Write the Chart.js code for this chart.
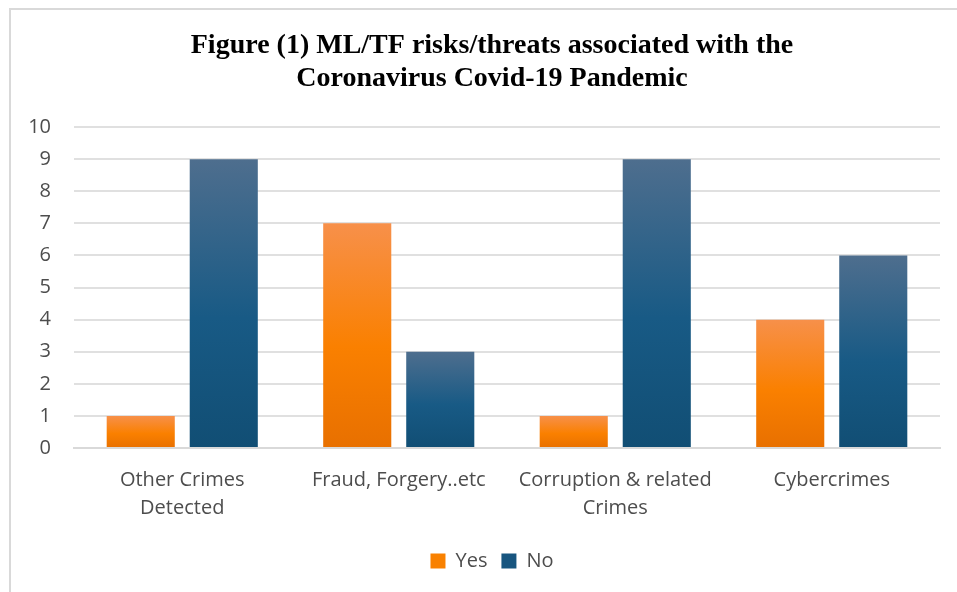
<!DOCTYPE html>
<html>
<head>
<meta charset="utf-8">
<script src="https://cdn.jsdelivr.net/npm/chart.js@4.4.1/dist/chart.umd.min.js"></script>
<style>
  html, body { margin: 0; padding: 0; background: #fff; }
  #wrap { position: relative; width: 957px; height: 592px; overflow: hidden; }
  #frame { position: absolute; left: 9px; top: 8px; width: 1000px; height: 700px; border: 2px solid #d9d9d9; box-sizing: border-box; }
  canvas { position: absolute; left: 0; top: 0; }
</style>
</head>
<body>
<div id="wrap">
  <div id="frame"></div>
  <canvas id="c" width="957" height="592"></canvas>
</div>
<script>
const categories = [["Other Crimes", "Detected"], "Fraud, Forgery..etc", ["Corruption & related", "Crimes"], "Cybercrimes"];
const yesValues = [1, 7, 1, 4];
const noValues = [9, 3, 9, 6];
const titleLines = ["Figure (1) ML/TF risks/threats associated with the", "Coronavirus Covid-19 Pandemic"];

function barGradient(ctx, stops) {
  const chart = ctx.chart;
  if (!chart.chartArea || ctx.type !== 'data') return stops[1][1];
  const ys = chart.scales.y;
  const v = ctx.parsed ? ctx.parsed.y : ctx.raw;
  const top = ys.getPixelForValue(v);
  const bot = ys.getPixelForValue(0);
  if (!isFinite(top) || !isFinite(bot) || top === bot) return stops[1][1];
  const g = chart.ctx.createLinearGradient(0, top, 0, bot);
  stops.forEach(s => g.addColorStop(s[0], s[1]));
  return g;
}
const orangeStops = [[0, '#F7904A'], [0.55, '#FA8000'], [1, '#E87000']];
const blueStops = [[0, '#4E6E8E'], [0.55, '#185A85'], [1, '#114E74']];
const sans = '"Open Sans", Calibri, sans-serif';

const shiftBlocks = {
  id: 'shiftBlocks',
  afterLayout(chart) {
    const dx = 12;
    if (chart.titleBlock) { chart.titleBlock.left += dx; chart.titleBlock.right += dx; }
    if (chart.legend) {
      chart.legend.left += dx; chart.legend.right += dx;
      (chart.legend.legendHitBoxes || []).forEach(b => { b.left += dx; });
    }
  }
};

new Chart(document.getElementById('c'), {
  type: 'bar',
  data: {
    labels: categories,
    datasets: [
      { label: 'Yes', data: yesValues, backgroundColor: c => barGradient(c, orangeStops), borderWidth: 0,
        barPercentage: 0.82, categoryPercentage: 0.767 },
      { label: 'No', data: noValues, backgroundColor: c => barGradient(c, blueStops), borderWidth: 0,
        barPercentage: 0.82, categoryPercentage: 0.767 }
    ]
  },
  plugins: [shiftBlocks],
  options: {
    responsive: false,
    animation: false,
    devicePixelRatio: 1,
    layout: { padding: { top: 29, left: 20, right: 17, bottom: 11 } },
    plugins: {
      title: {
        display: true,
        text: titleLines,
        color: '#000',
        font: { family: '"Liberation Serif", "Times New Roman", serif', size: 28, weight: 'bold', lineHeight: 1.18 },
        padding: { top: 0, bottom: 32 }
      },
      legend: {
        position: 'bottom',
        labels: {
          color: '#4d4d4d',
          font: { family: sans, size: 20 },
          boxWidth: 15, boxHeight: 15, padding: 14,
          generateLabels: chart => chart.data.datasets.map((d, i) => ({
            text: d.label, fillStyle: i === 0 ? '#F98100' : '#17557F', strokeStyle: 'transparent', lineWidth: 0, datasetIndex: i, fontColor: '#4d4d4d'
          }))
        }
      },
      tooltip: { enabled: false }
    },
    scales: {
      x: {
        grid: { display: false, drawTicks: false },
        border: { display: true, color: '#d9d9d9', width: 2 },
        ticks: { color: '#4d4d4d', font: { family: sans, size: 20, lineHeight: 1.4 }, padding: 18, maxRotation: 0, autoSkip: false },
        afterFit: s => { s.height -= 3; }
      },
      y: {
        min: 0, max: 10,
        ticks: { stepSize: 1, color: '#4d4d4d', font: { family: sans, size: 20 }, padding: 23 },
        grid: { color: '#e0e0e0', lineWidth: 2, drawTicks: false },
        border: { display: false },
        afterFit: s => { s.width = 54; }
      }
    }
  }
});
</script>
</body>
</html>
